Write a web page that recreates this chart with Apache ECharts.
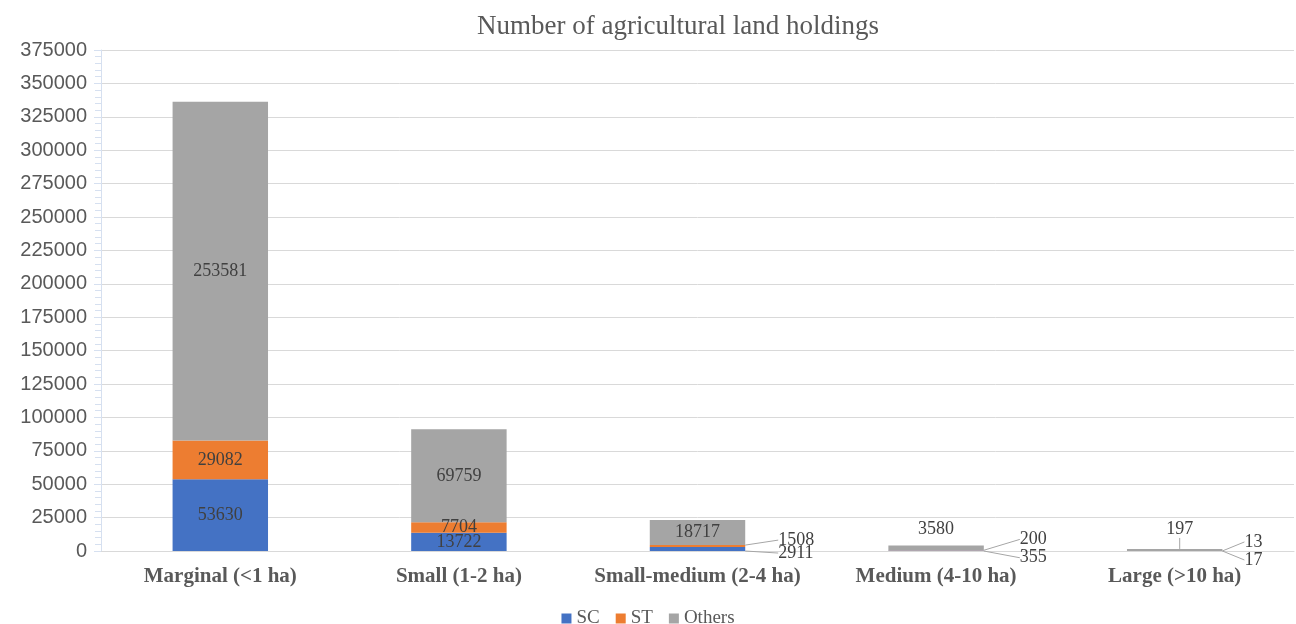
<!DOCTYPE html>
<html>
<head>
<meta charset="utf-8">
<title>Number of agricultural land holdings</title>
<script src="https://cdn.jsdelivr.net/npm/echarts@6/dist/echarts.min.js"></script>
<style>
    html, body { margin: 0; padding: 0; background: #fff; }
    #main { width: 1296px; height: 624px; }
</style>
</head>
<body>
<div id="main"></div>
<script>
// categories and values
const categories = ['Marginal (<1 ha)', 'Small (1-2 ha)', 'Small-medium (2-4 ha)', 'Medium (4-10 ha)', 'Large (>10 ha)']
const scValues = [53630, 13722, 2911, 355, 17]
const stValues = [29082, 7704, 1508, 200, 13]
const otherValues = [253581, 69759, 18717, 3580, 197]
const yTicks = { min: 0, max: 375000, interval: 25000 }

const serif = '"Liberation Serif", "DejaVu Serif", serif'
const sans = '"Liberation Sans", "DejaVu Sans", sans-serif'

// callout labels for the thin segments (seriesIndex-dataIndex)
// side: right -> to the right of the bar, top -> above the bar
const callouts = {
    '0-2': { side: 'right', dx: 33, dy: 4 },
    '1-2': { side: 'right', dx: 33, dy: -6 },
    '0-3': { side: 'right', dx: 36, dy: 7 },
    '1-3': { side: 'right', dx: 36, dy: -11 },
    '0-4': { side: 'right', dx: 22, dy: 9 },
    '1-4': { side: 'right', dx: 22, dy: -9 },
    '2-4': { side: 'top', dx: 5, dy: -20 }
}
// labels that simply sit on top of the bar, no leader line
const topLabels = { '2-3': true }

const chartInstance = echarts.init(document.getElementById('main'))

const labelStyle = {
    show: true,
    position: 'inside',
    fontFamily: serif,
    fontSize: 18,
    color: '#404040'
}

function makeSeries(name, values, color, seriesIndex) {
    return {
        name: name,
        type: 'bar',
        stack: 'total',
        barWidth: '40%',
        barMinHeight: seriesIndex === 2 ? 2 : 0,
        data: values.map((v, i) => {
            if (topLabels[seriesIndex + '-' + i]) {
                return {
                    value: v,
                    label: { position: 'top', distance: 7 },
                    labelLine: { show: false }
                }
            }
            return v
        }),
        itemStyle: { color: color },
        label: labelStyle,
        labelLine: {
            show: true,
            lineStyle: { color: '#a6a6a6', width: 1 }
        }
    }
}

const option = {
    animation: false,
    title: {
        text: 'Number of agricultural land holdings',
        left: 673,
        textAlign: 'center',
        top: 8,
        textStyle: {
            fontFamily: serif,
            fontWeight: 'normal',
            fontSize: 27,
            color: '#595959'
        }
    },
    legend: {
        left: 'center',
        top: 604,
        icon: 'rect',
        itemWidth: 10,
        itemHeight: 10,
        itemGap: 16,
        textStyle: {
            fontFamily: serif,
            fontSize: 19,
            color: '#595959'
        },
        data: ['SC', 'ST', 'Others']
    },
    grid: {
        left: 101,
        right: 2,
        top: 50,
        bottom: 73,
        containLabel: false
    },
    xAxis: {
        type: 'category',
        data: categories,
        axisLine: { lineStyle: { color: '#d9d9d9' } },
        axisTick: { show: false },
        axisLabel: {
            interval: 0,
            margin: 15,
            fontFamily: serif,
            fontWeight: 'bold',
            fontSize: 21,
            color: '#595959'
        }
    },
    yAxis: {
        type: 'value',
        min: yTicks.min,
        max: yTicks.max,
        interval: yTicks.interval,
        axisLine: { show: true, lineStyle: { color: '#d6e0f0' } },
        axisTick: { show: true, length: 7, lineStyle: { color: '#d6e0f0' } },
        minorTick: { show: true, splitNumber: 5, length: 6, lineStyle: { color: '#d6e0f0' } },
        splitLine: { lineStyle: { color: '#d9d9d9' } },
        axisLabel: {
            margin: 14,
            fontFamily: sans,
            fontSize: 20,
            color: '#595959',
            formatter: (v) => String(v)
        }
    },
    labelLayout: function (params) {
        const c = callouts[params.seriesIndex + '-' + params.dataIndex]
        if (!c) return {}
        const r = params.rect
        if (c.side === 'right') {
            return {
                x: r.x + r.width + c.dx,
                y: r.y + r.height / 2 + c.dy,
                align: 'left',
                verticalAlign: 'middle'
            }
        }
        return {
            x: r.x + r.width / 2 + c.dx,
            y: r.y + c.dy,
            align: 'center',
            verticalAlign: 'middle'
        }
    },
    series: [
        makeSeries('SC', scValues, '#4472c4', 0),
        makeSeries('ST', stValues, '#ed7d31', 1),
        makeSeries('Others', otherValues, '#a5a5a5', 2)
    ]
}

chartInstance.setOption(option)
</script>
</body>
</html>
